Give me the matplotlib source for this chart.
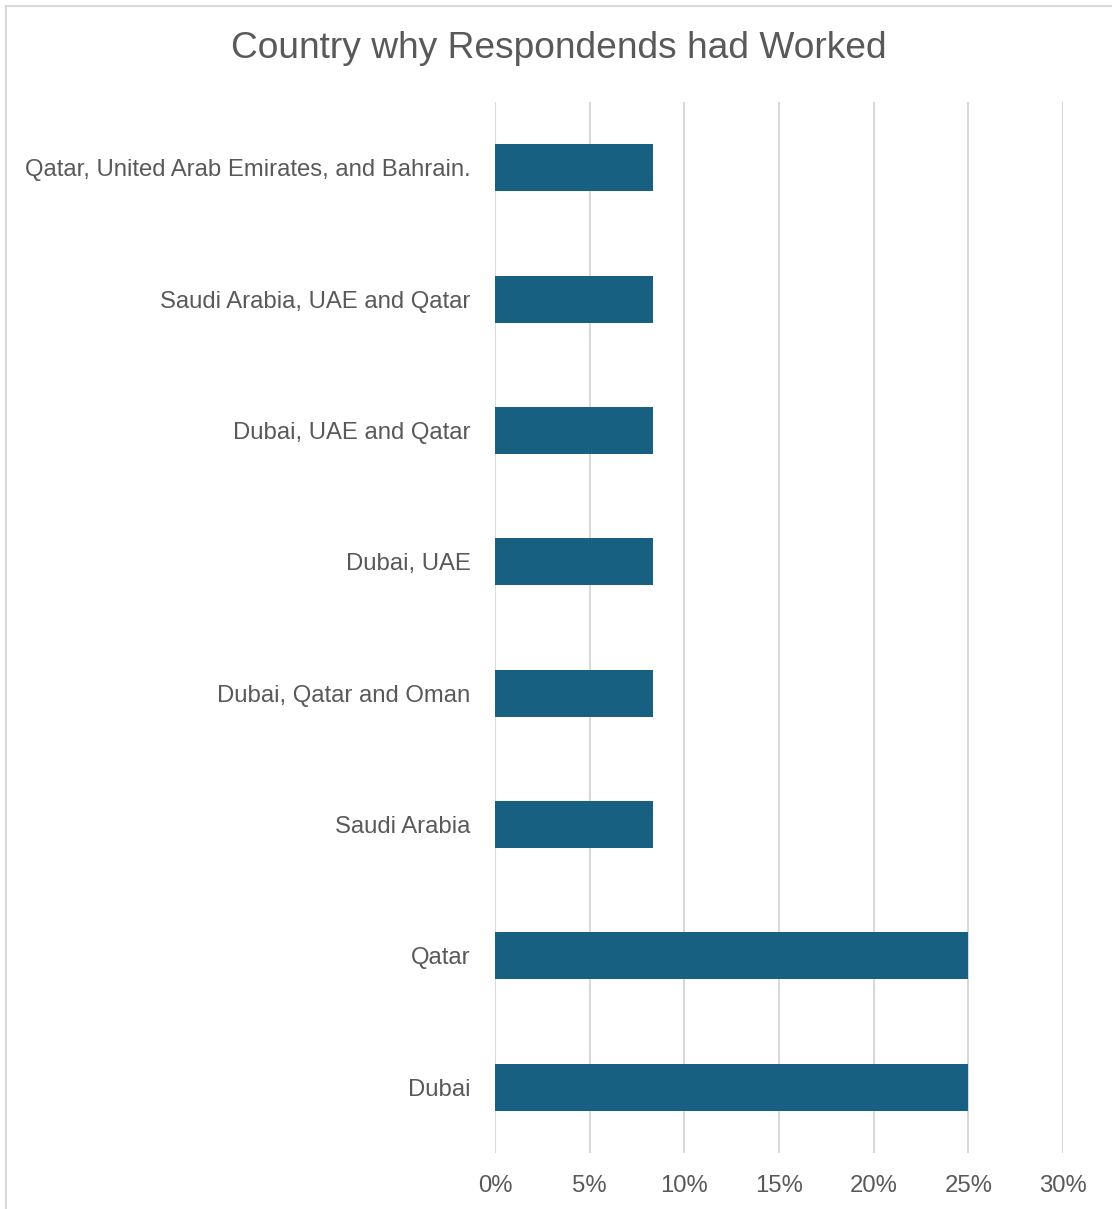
import matplotlib
matplotlib.use("Agg")
import matplotlib.pyplot as plt
from matplotlib.ticker import FuncFormatter, MultipleLocator
from matplotlib.patches import Rectangle

plt.rcParams['font.family'] = ['Liberation Sans', 'DejaVu Sans']

# Share of respondents by country/region worked in (fractions)
countries = [
    "Qatar, United Arab Emirates, and Bahrain.",
    "Saudi Arabia, UAE and Qatar",
    "Dubai, UAE and Qatar",
    "Dubai, UAE",
    "Dubai, Qatar and Oman",
    "Saudi Arabia",
    "Qatar",
    "Dubai",
]
shares = [0.0833, 0.0833, 0.0833, 0.0833, 0.0833, 0.0833, 0.25, 0.25]

W, H = 1112, 1209
fig = plt.figure(figsize=(W / 100, H / 100), dpi=100)

# chart frame
fig.patches.append(Rectangle((6 / W, -0.1), 1.2, (H - 5) / H + 0.1 - 0.0005,
                             transform=fig.transFigure, fill=False,
                             edgecolor="#d9d9d9", linewidth=1.5))

left, right = 495 / W, 1063 / W
top, bottom = 1 - 102 / H, 1 - 1153 / H
ax = fig.add_axes([left, bottom, right - left, top - bottom])

y = list(range(len(countries)))
ax.barh(y, shares, height=0.357, color="#176082", zorder=3)
ax.set_ylim(len(countries) - 0.5, -0.5)
ax.set_yticks(y)
ax.set_yticklabels(countries)
ax.set_xlim(0, 0.30)
ax.xaxis.set_major_locator(MultipleLocator(0.05))
ax.xaxis.set_major_formatter(FuncFormatter(lambda v, p: f"{v * 100:.0f}%"))
ax.grid(axis="x", color="#d9d9d9", linewidth=1.5, zorder=0)
for s in ax.spines.values():
    s.set_visible(False)
ax.tick_params(axis="both", length=0, labelsize=17.2, colors="#595959")
ax.tick_params(axis="y", pad=17.5)
ax.tick_params(axis="x", pad=15.5)

fig.text(559 / W, 1 - 48 / H, "Country why Respondends had Worked",
         ha="center", va="center", fontsize=26.7, color="#595959")

fig.savefig("out.png", dpi=100, facecolor="white")
